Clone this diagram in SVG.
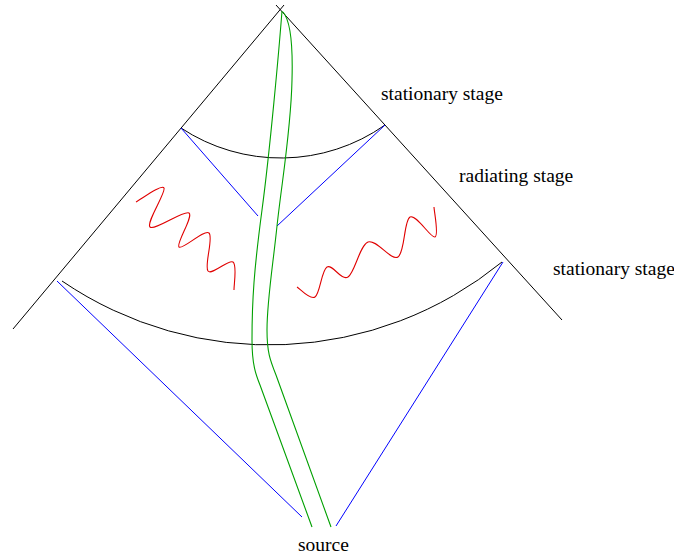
<svg xmlns="http://www.w3.org/2000/svg" width="674" height="554" viewBox="0 0 674 554">
<style>
.k{fill:none;stroke:#000;stroke-width:1}
.b{fill:none;stroke:#0000ff;stroke-width:1}
.g{fill:none;stroke:#00a000;stroke-width:1.1}
.r{fill:none;stroke:#e00000;stroke-width:1.1}
text{font-family:"Liberation Serif","Times New Roman",serif;font-size:19.5px;fill:#000}
</style>
<rect width="674" height="554" fill="#fff"/>
<g id="connectors">
<line class="k" x1="13" y1="329" x2="284" y2="5"/>
<line class="k" x1="276" y1="5" x2="562" y2="320"/>
<path class="k" d="M181,128 A181,181 0 0 0 385,125"/>
<path class="k" d="M62,281 A368,368 0 0 0 502,262"/>
<line class="b" x1="181" y1="128" x2="258" y2="216"/>
<line class="b" x1="385" y1="125" x2="277" y2="226"/>
<line class="b" x1="57" y1="281" x2="302" y2="517"/>
<line class="b" x1="503" y1="262" x2="336" y2="526"/>
<path class="g" d="M282,11 C279,50 270,150 262,210 C254,270 252,300 252,340 C252,365 256,375 260,385 L312,527"/>
<path class="g" d="M283,12 C290,20 293,45 292,80 C291,130 282,180 277,226 C273,265 267,300 267,330 C267,352 270,360 276,375 L331,527"/>
<path class="r" d="M136,202 C140.7,199.7 161.7,183.8 164,188 C166.3,192.2 145.8,222.8 150,227 C154.2,231.2 184.2,209.7 189,213 C193.8,216.3 175.7,243.7 179,247 C182.3,250.3 204.2,229 209,233 C213.8,237 204,266.2 208,271 C212,275.8 228.7,258.8 233,262 C237.3,265.2 233.8,285.3 234,290"/>
<path class="r" d="M297,287 C300,288.7 310,300.3 315,297 C320,293.7 321.5,270.3 327,267 C332.5,263.7 341.2,281.2 348,277 C354.8,272.8 359.7,245.3 368,242 C376.3,238.7 391,261.2 398,257 C405,252.8 403.8,220.3 410,217 C416.2,213.7 431,238.7 435,237 C439,235.3 434.2,212 434,207"/>
</g>
<g id="label-stationary-top"><text x="381" y="100">stationary stage</text></g>
<g id="label-radiating"><text x="459" y="182">radiating stage</text></g>
<g id="label-stationary-right"><text x="553" y="275">stationary stage</text></g>
<g id="label-source"><text x="298" y="551">source</text></g>
</svg>
